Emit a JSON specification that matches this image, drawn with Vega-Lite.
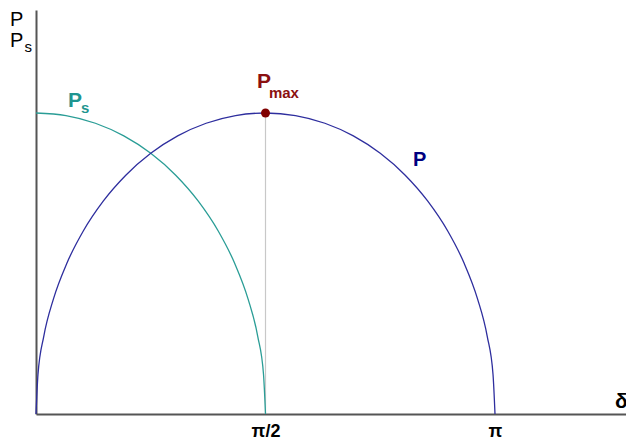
{
  "$schema": "https://vega.github.io/schema/vega-lite/v6.json",
  "width": 590,
  "height": 404,
  "autosize": "none",
  "padding": {"left": 36, "top": 10, "right": 0, "bottom": 29},
  "background": "white",
  "config": {"view": {"stroke": null}, "font": "Liberation Sans"},
  "datasets": {
    "P": [
      {"x": 0, "y": 0}, {"x": 0.00428, "y": 0.13053}, {"x": 0.01704, "y": 0.25882},
      {"x": 0.03806, "y": 0.38268}, {"x": 0.06699, "y": 0.5}, {"x": 0.10332, "y": 0.60876},
      {"x": 0.14645, "y": 0.70711}, {"x": 0.19562, "y": 0.79335}, {"x": 0.25, "y": 0.86603},
      {"x": 0.30866, "y": 0.92388}, {"x": 0.37059, "y": 0.96593}, {"x": 0.43474, "y": 0.99144},
      {"x": 0.5, "y": 1}, {"x": 0.56526, "y": 0.99144}, {"x": 0.62941, "y": 0.96593},
      {"x": 0.69134, "y": 0.92388}, {"x": 0.75, "y": 0.86603}, {"x": 0.80438, "y": 0.79335},
      {"x": 0.85355, "y": 0.70711}, {"x": 0.89668, "y": 0.60876}, {"x": 0.93301, "y": 0.5},
      {"x": 0.96194, "y": 0.38268}, {"x": 0.98296, "y": 0.25882}, {"x": 0.99572, "y": 0.13053},
      {"x": 1, "y": 0}
    ],
    "Ps": [
      {"x": 0, "y": 1}, {"x": 0.06527, "y": 0.99144}, {"x": 0.12941, "y": 0.96593},
      {"x": 0.19134, "y": 0.92388}, {"x": 0.25, "y": 0.86603}, {"x": 0.30438, "y": 0.79335},
      {"x": 0.35355, "y": 0.70711}, {"x": 0.39668, "y": 0.60876}, {"x": 0.43301, "y": 0.5},
      {"x": 0.46194, "y": 0.38268}, {"x": 0.48296, "y": 0.25882}, {"x": 0.49572, "y": 0.13053},
      {"x": 0.5, "y": 0}
    ],
    "peak": [{"x": 0.5, "y": 1, "y0": 0}],
    "labels": [
      {"x": -0.0566, "y": 1.2890, "text": "P", "g": "axis"},
      {"x": -0.0566, "y": 1.2193, "text": "P", "g": "axis"},
      {"x": -0.0250, "y": 1.2027, "text": "s", "g": "axissub"},
      {"x": 1.2614, "y": 0.0199, "text": "δ", "g": "axisb"},
      {"x": 0.0697, "y": 1.02, "text": "P", "g": "ps"},
      {"x": 0.0980, "y": 1.0, "text": "s", "g": "pssub"},
      {"x": 0.4815, "y": 1.083, "text": "P", "g": "pmax"},
      {"x": 0.5075, "y": 1.0498, "text": "max", "g": "pmaxsub"},
      {"x": 0.8214, "y": 0.824, "text": "P", "g": "p"}
    ]
  },
  "layer": [
    {
      "data": {"name": "peak"},
      "mark": {"type": "rule", "color": "#c8c8c8", "strokeWidth": 1.2},
      "encoding": {
        "x": {"field": "x", "type": "quantitative", "scale": {"domain": [0, 1.2854], "nice": false, "zero": false},
          "axis": {"values": [0.5, 1], "labelExpr": "datum.value == 1 ? 'π' : 'π/2'", "grid": false, "ticks": false,
            "domainColor": "#555555", "domainWidth": 2, "labelFont": "Liberation Sans", "labelFontSize": 18,
            "labelFontWeight": "bold", "labelColor": "#000000", "labelPadding": 8, "labelBaseline": "top", "title": null}},
        "y": {"field": "y", "type": "quantitative", "scale": {"domain": [0, 1.3422], "nice": false, "zero": false},
          "axis": {"labels": false, "ticks": false, "grid": false, "domainColor": "#555555", "domainWidth": 2, "title": null}},
        "y2": {"field": "y0"}
      }
    },
    {
      "data": {"name": "Ps"},
      "mark": {"type": "line", "color": "#2a9d96", "strokeWidth": 1.3, "interpolate": "monotone"},
      "encoding": {"x": {"field": "x", "type": "quantitative"}, "y": {"field": "y", "type": "quantitative"}}
    },
    {
      "data": {"name": "P"},
      "mark": {"type": "line", "color": "#2e2e9e", "strokeWidth": 1.3, "interpolate": "monotone"},
      "encoding": {"x": {"field": "x", "type": "quantitative"}, "y": {"field": "y", "type": "quantitative"}}
    },
    {
      "data": {"name": "peak"},
      "mark": {"type": "point", "filled": true, "color": "#800000", "size": 80, "opacity": 1},
      "encoding": {"x": {"field": "x", "type": "quantitative"}, "y": {"field": "y", "type": "quantitative"}}
    },
    {
      "data": {"name": "labels"},
      "transform": [{"filter": "datum.g == 'axis'"}],
      "mark": {"type": "text", "align": "left", "baseline": "alphabetic", "fontSize": 20, "color": "#000000"},
      "encoding": {"x": {"field": "x", "type": "quantitative"}, "y": {"field": "y", "type": "quantitative"}, "text": {"field": "text"}}
    },
    {
      "data": {"name": "labels"},
      "transform": [{"filter": "datum.g == 'axisb'"}],
      "mark": {"type": "text", "align": "left", "baseline": "alphabetic", "fontSize": 21, "fontWeight": "bold", "color": "#000000"},
      "encoding": {"x": {"field": "x", "type": "quantitative"}, "y": {"field": "y", "type": "quantitative"}, "text": {"field": "text"}}
    },
    {
      "data": {"name": "labels"},
      "transform": [{"filter": "datum.g == 'axissub'"}],
      "mark": {"type": "text", "align": "left", "baseline": "alphabetic", "fontSize": 15, "color": "#000000"},
      "encoding": {"x": {"field": "x", "type": "quantitative"}, "y": {"field": "y", "type": "quantitative"}, "text": {"field": "text"}}
    },
    {
      "data": {"name": "labels"},
      "transform": [{"filter": "datum.g == 'ps'"}],
      "mark": {"type": "text", "align": "left", "baseline": "alphabetic", "fontSize": 21, "fontWeight": "bold", "color": "#1f9590"},
      "encoding": {"x": {"field": "x", "type": "quantitative"}, "y": {"field": "y", "type": "quantitative"}, "text": {"field": "text"}}
    },
    {
      "data": {"name": "labels"},
      "transform": [{"filter": "datum.g == 'pssub'"}],
      "mark": {"type": "text", "align": "left", "baseline": "alphabetic", "fontSize": 15, "fontWeight": "bold", "color": "#1f9590"},
      "encoding": {"x": {"field": "x", "type": "quantitative"}, "y": {"field": "y", "type": "quantitative"}, "text": {"field": "text"}}
    },
    {
      "data": {"name": "labels"},
      "transform": [{"filter": "datum.g == 'pmax'"}],
      "mark": {"type": "text", "align": "left", "baseline": "alphabetic", "fontSize": 21, "fontWeight": "bold", "color": "#8b1010"},
      "encoding": {"x": {"field": "x", "type": "quantitative"}, "y": {"field": "y", "type": "quantitative"}, "text": {"field": "text"}}
    },
    {
      "data": {"name": "labels"},
      "transform": [{"filter": "datum.g == 'pmaxsub'"}],
      "mark": {"type": "text", "align": "left", "baseline": "alphabetic", "fontSize": 15, "fontWeight": "bold", "color": "#8b1010"},
      "encoding": {"x": {"field": "x", "type": "quantitative"}, "y": {"field": "y", "type": "quantitative"}, "text": {"field": "text"}}
    },
    {
      "data": {"name": "labels"},
      "transform": [{"filter": "datum.g == 'p'"}],
      "mark": {"type": "text", "align": "left", "baseline": "alphabetic", "fontSize": 20, "fontWeight": "bold", "color": "#000080"},
      "encoding": {"x": {"field": "x", "type": "quantitative"}, "y": {"field": "y", "type": "quantitative"}, "text": {"field": "text"}}
    }
  ]
}
